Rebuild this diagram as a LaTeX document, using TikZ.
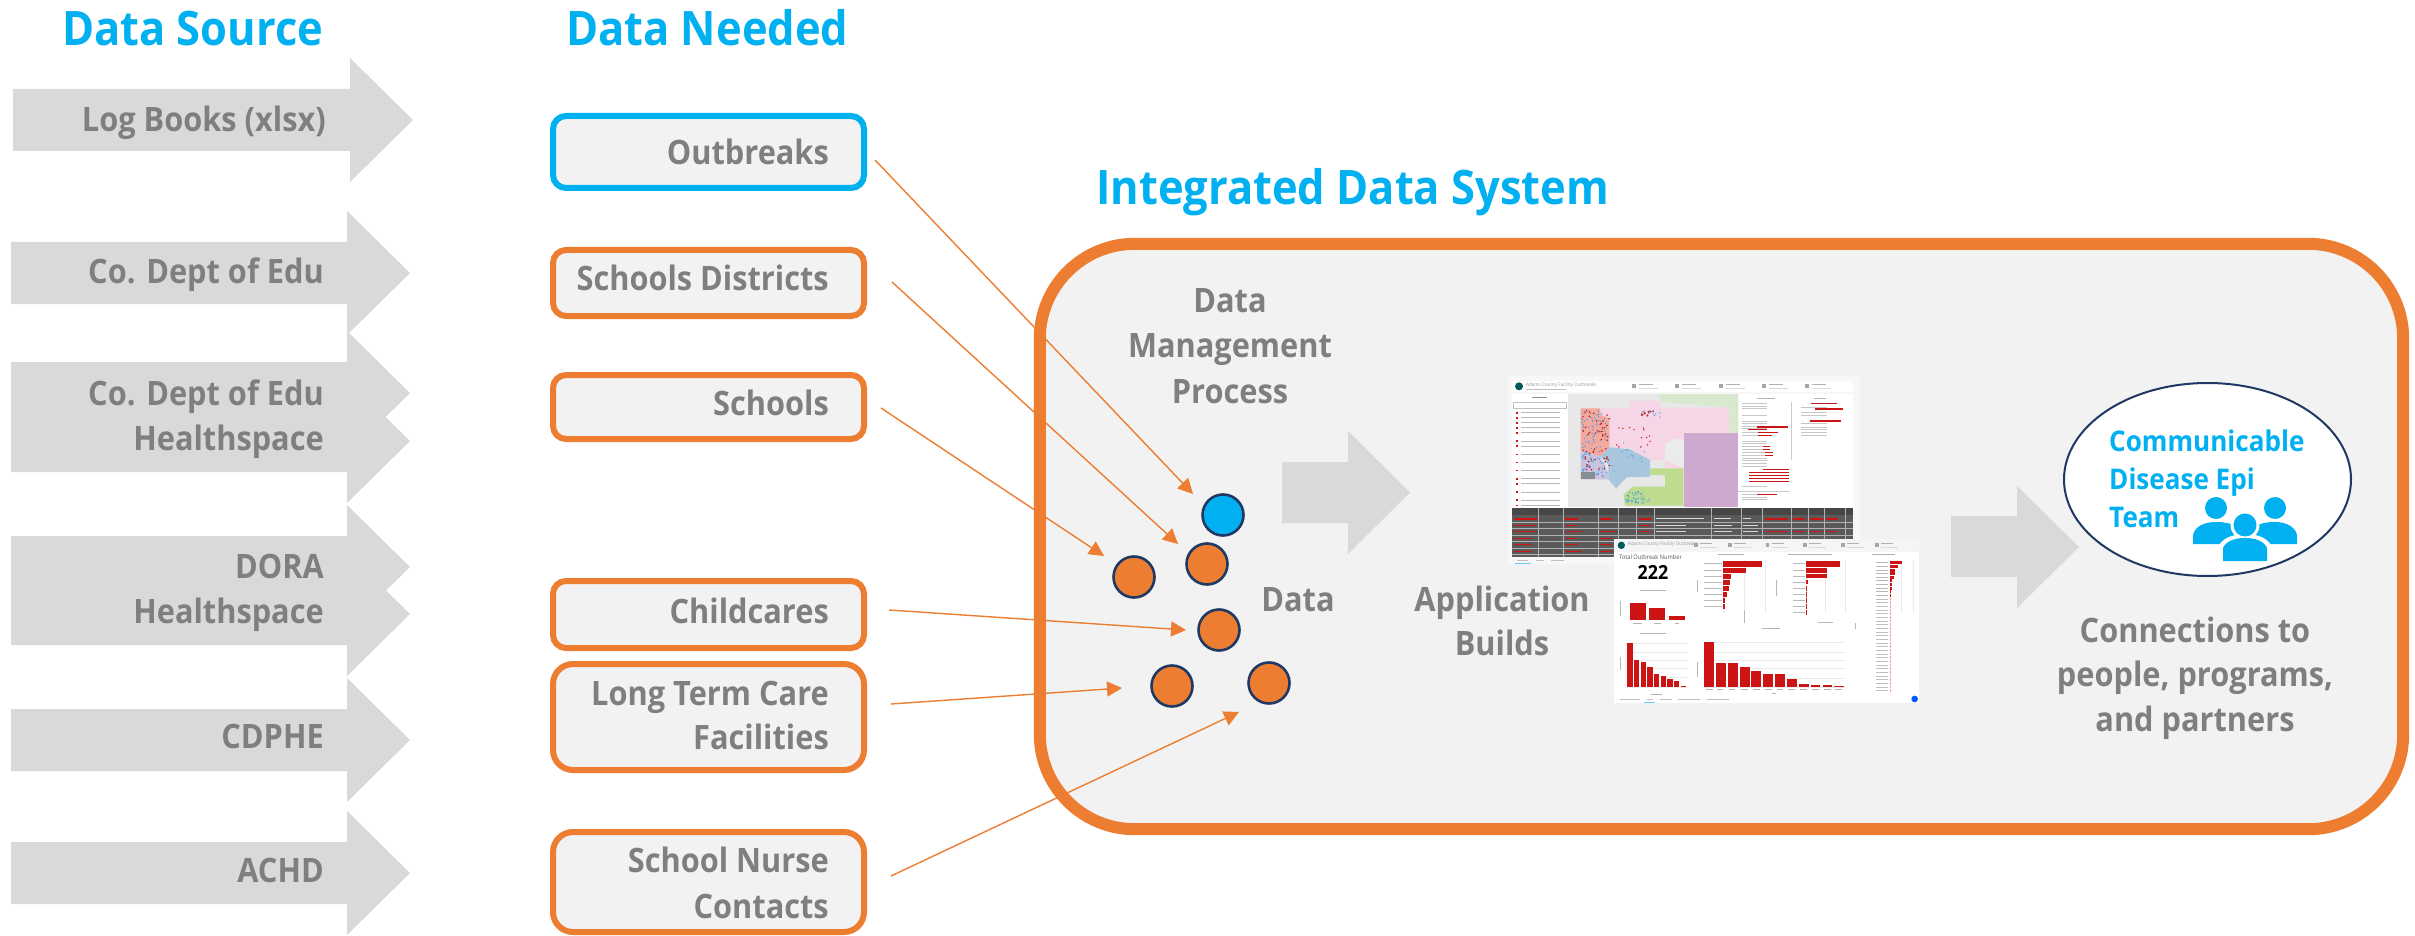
\documentclass[tikz,border=0pt]{standalone}
\usepackage{fontspec}
\setmainfont{Open Sans}[FakeStretch=0.915]
\usetikzlibrary{arrows.meta,calc,shapes.geometric}
\definecolor{arrowgrey}{HTML}{D9D9D9}
\definecolor{panelgrey}{HTML}{F2F2F2}
\definecolor{textgrey}{HTML}{7F7F7F}
\definecolor{accorange}{HTML}{ED7D31}
\definecolor{accblue}{HTML}{00B0F0}
\definecolor{navy}{HTML}{1F3864}
\definecolor{barred}{HTML}{CC1414}
\definecolor{tinygrey}{HTML}{9A9A9A}
\definecolor{darktable}{HTML}{5A5A5A}
\definecolor{mapgreen}{HTML}{D8E9CF}
\definecolor{mappink}{HTML}{F6D6E6}
\definecolor{mapsalmon}{HTML}{F3A99E}
\definecolor{maplav}{HTML}{C9C3E0}
\definecolor{mapblue}{HTML}{A9C6DF}
\definecolor{maplime}{HTML}{BFDB8D}
\definecolor{mappurple}{HTML}{CDA8CF}
\definecolor{mapdot}{HTML}{4EA3E0}
\tikzset{
  heading/.style={anchor=base west,inner sep=0pt,text=accblue,font=\fontsize{47.5}{50}\selectfont\bfseries},
  lab/.style={anchor=base east,inner sep=0pt,text=textgrey,font=\fontsize{33.6}{40}\selectfont\bfseries},
  clab/.style={anchor=base,inner sep=0pt,text=textgrey,font=\fontsize{33.6}{40}\selectfont\bfseries},
  tlab/.style={anchor=base west,inner sep=0pt,text=accblue,font=\fontsize{28.5}{32}\selectfont\bfseries},
  boxo/.style={draw=accorange,line width=6pt,fill=panelgrey,rounded corners=13pt,inner sep=0pt},
  boxb/.style={boxo,draw=accblue},
  dotnode/.style={circle,draw=navy,line width=2.6pt,fill=accorange,minimum size=41pt,inner sep=0pt},
  conn/.style={draw=accorange,line width=1.4pt,-{Triangle[length=15pt,width=15pt]}},
  bigarrow/.style={fill=arrowgrey},
  tiny/.style={anchor=west,inner sep=0pt,text=tinygrey,font=\fontsize{4.6}{5}\selectfont},
}
\newcommand{\srcarrow}[3]{\fill[arrowgrey] (#1,#3-31) -- (#2,#3-31) -- (#2,#3-62) -- (#2+63,#3) -- (#2,#3+62) -- (#2,#3+31) -- (#1,#3+31) -- cycle;}
\begin{document}
\begin{tikzpicture}[x=1pt,y=-1pt]
\useasboundingbox (0,0) rectangle (2415,936);
\fill[white] (0,0) rectangle (2415,936);

% headings
\node[heading] (hsrc) at (62,46) {Data Source};
\node[heading] (hneed) at (566,46) {Data Needed};
\node[heading] (hsys) at (1096,205) {Integrated Data System};

% source arrows
\srcarrow{13}{350}{120}
\srcarrow{11}{347}{273}
\srcarrow{11}{347}{393}
\srcarrow{11}{347}{441}
\srcarrow{11}{347}{567}
\srcarrow{11}{347}{614}
\srcarrow{11}{347}{740}
\srcarrow{11}{347}{873}
\node[lab] (s1) at (326,132) {Log Books (xlsx)};
\node[lab] (s2) at (324,283) {Co. Dept of Edu};
\node[lab] (s3a) at (324,405) {Co. Dept of Edu};
\node[lab] (s3b) at (324,450) {Healthspace};
\node[lab] (s4a) at (324,578) {DORA};
\node[lab] (s4b) at (324,623) {Healthspace};
\node[lab] (s5) at (324,748) {CDPHE};
\node[lab] (s6) at (324,882) {ACHD};

% container fill
\node[fill=panelgrey,rounded corners=95pt,minimum width=1363pt,minimum height=585pt,inner sep=0pt] (sys) at (1721.5,536.5) {};

% data boxes
\node[boxb,minimum width=311pt,minimum height=72pt] (b1) at (708.5,152) {};
\node[boxo,minimum width=311pt,minimum height=66pt] (b2) at (708.5,283) {};
\node[boxo,minimum width=311pt,minimum height=64pt] (b3) at (708.5,407) {};
\node[boxo,minimum width=311pt,minimum height=67pt] (b4) at (708.5,614.5) {};
\node[boxo,minimum width=311pt,minimum height=106pt,rounded corners=20pt] (b5) at (708.5,717) {};
\node[boxo,minimum width=311pt,minimum height=100pt,rounded corners=20pt] (b6) at (708.5,882) {};
\node[lab] (t1) at (829,165) {Outbreaks};
\node[lab] (t2) at (829,290) {Schools Districts};
\node[lab] (t3) at (829,415) {Schools};
\node[lab] (t4) at (829,623) {Childcares};
\node[lab] (t5a) at (829,705) {Long Term Care};
\node[lab] (t5b) at (829,749) {Facilities};
\node[lab] (t6a) at (829,872) {School Nurse};
\node[lab] (t6b) at (829,918) {Contacts};

% data dots
\node[dotnode,fill=accblue] (c1) at (1223,515) {};
\node[dotnode] (c2) at (1207,564) {};
\node[dotnode] (c3) at (1134,577) {};
\node[dotnode] (c4) at (1219,630) {};
\node[dotnode] (c5) at (1172,686) {};
\node[dotnode] (c6) at (1269,683) {};

% connectors
\draw[conn] ($(b1.east)+(8,8)$) -- ($(c1)+(-30,-21)$);
\draw[conn] ($(b2.east)+(25,-1)$) -- ($(c2)+(-29,-20)$);
\draw[conn] ($(b3.east)+(14,1)$) -- ($(c3)+(-30,-21)$);
\draw[conn] ($(b4.east)+(22,-4.5)$) -- ($(c4)+(-33,0)$);
\draw[conn] ($(b5.east)+(24,-13)$) -- ($(c5)+(-50,2)$);
\draw[conn] ($(b6.east)+(24,-6)$) -- ($(c6)+(-30,29)$);

% container outline above connectors
\draw[accorange,line width=12pt,rounded corners=95pt] (sys.north west) rectangle (sys.south east);

% labels in container
\node[clab] (m1) at (1230,312) {Data};
\node[clab] (m2) at (1230,357) {Management};
\node[clab] (m3) at (1230,403) {Process};
\node[clab] (md) at (1298,611) {Data};
\node[clab] (ab1) at (1502,611) {Application};
\node[clab] (ab2) at (1502,655) {Builds};
\node[clab] (cn1) at (2195,642) {Connections to};
\node[clab] (cn2) at (2195,686) {people, programs,};
\node[clab] (cn3) at (2195,731) {and partners};

% big arrows
\fill[arrowgrey] (1282,462) -- (1348,462) -- (1348,431) -- (1410,492.5) -- (1348,554) -- (1348,523) -- (1282,523) -- cycle;
\fill[arrowgrey] (1951,516) -- (2017,516) -- (2017,486) -- (2079,547) -- (2017,608) -- (2017,577) -- (1951,577) -- cycle;

% team ellipse
\node[ellipse,draw=navy,line width=2pt,fill=white,minimum width=287pt,minimum height=193pt,inner sep=0pt] (team) at (2207.5,479.5) {};
\node[tlab] (tm1) at (2109,451) {Communicable};
\node[tlab] (tm2) at (2109,489.5) {Disease Epi};
\node[tlab] (tm3) at (2109,527) {Team};
\fill[accblue] (2216,508) circle[radius=11];
\fill[accblue] (2275,508) circle[radius=11];
\fill[accblue] (2193,544) -- (2193,535) .. controls (2195,526) and (2205,522) .. (2216,522) .. controls (2228,522) and (2236,525) .. (2240,530) -- (2240,544) -- cycle;
\fill[accblue] (2297,544) -- (2297,535) .. controls (2295,526) and (2285,522) .. (2275,522) .. controls (2263,522) and (2255,525) .. (2250,530) -- (2250,544) -- cycle;
\fill[white] (2245,525) circle[radius=14.5];
\fill[white] (2219,564) -- (2219,545) .. controls (2224,537) and (2235,534) .. (2245,534) .. controls (2256,534) and (2266,537) .. (2271,545) -- (2271,564) -- cycle;
\fill[accblue] (2245,525) circle[radius=11.5];
\fill[accblue] (2223,561) -- (2223,548) .. controls (2226,541) and (2235,538) .. (2245,538) .. controls (2255,538) and (2264,541) .. (2267,548) -- (2267,561) -- cycle;

% ===== dashboard screenshot 1 =====
\begin{scope}[shift={(1480,360)},x=0.33333pt,y=-0.33333pt]
\fill[white!97!black] (85,48) rectangle (1140,612);
\fill[white] (95,62) rectangle (1120,97);
\fill[white] (95,102) rectangle (1120,445);
\fill[teal!70!black] (117,79) circle[radius=12];
\node[tiny,font=\fontsize{5}{6}\selectfont] (d1t) at (138,75) {Adams County Facility Outbreaks};
\foreach \xx in {457,586,718,847,976}{
  \fill[black!35] (\xx,73) rectangle ++(12,12);
  \fill[black!30] (\xx+20,71) rectangle ++(42,3);
  \fill[black!15] (\xx+20,83) rectangle ++(58,3);
}
\fill[black!25] (138,86) rectangle (258,89);
% list
\fill[black!45] (157,110) rectangle (200,113);
\draw[black!25,line width=.5pt] (100,128) rectangle (258,145);
\foreach \yy in {158,173,188,203,218,243,258,283,307,331,356,371,396,420,436}{
  \fill[barred] (108,\yy-2) rectangle ++(5,5);
  \fill[black!28] (123,\yy-1.5) rectangle (240,\yy+1.5);
}
% map
\fill[black!9] (265,102) rectangle (775,440);
\fill[mapgreen] (538,102) -- (775,102) -- (775,218) -- (745,218) -- (745,143) -- (538,125) -- cycle;
\fill[mappink] (360,145) -- (448,145) -- (448,122) -- (540,122) -- (540,143) -- (745,143) -- (748,190) -- (745,218) -- (612,218) -- (612,325) -- (555,325) -- (555,300) -- (510,300) -- (450,265) -- (388,262) -- (388,175) -- (362,165) -- cycle;
\fill[mapsalmon] (302,145) -- (360,145) -- (362,165) -- (388,175) -- (388,262) -- (360,290) -- (302,270) -- cycle;
\fill[maplav] (302,270) -- (360,290) -- (385,340) -- (385,358) -- (302,358) -- cycle;
\fill[black!45] (302,335) rectangle (345,358);
\fill[mapblue] (388,262) -- (450,268) -- (510,300) -- (510,350) -- (440,352) -- (408,385) -- (385,358) -- (385,310) -- (360,290) -- cycle;
\fill[white!92!black] (555,250) -- (590,235) -- (660,250) -- (650,275) -- (650,325) -- (612,325) -- (555,300) -- cycle;
\fill[maplime] (510,325) -- (610,325) -- (610,437) -- (435,437) -- (430,405) -- (458,380) -- (555,380) -- (555,345) -- (510,345) -- cycle;
\fill[mappurple] (612,218) -- (775,218) -- (775,440) -- (612,440) -- cycle;
\pgfmathsetseed{7}
\foreach \i in {1,...,110}{
  \pgfmathsetmacro\px{305+rnd*78}\pgfmathsetmacro\py{150+rnd*200}
  \fill[mapdot] (\px,\py) circle[radius=2.4];
}
\foreach \i in {1,...,55}{
  \pgfmathsetmacro\px{305+rnd*85}\pgfmathsetmacro\py{150+rnd*185}
  \fill[barred] (\px,\py) circle[radius=2.6];
}
\foreach \i in {1,...,40}{
  \pgfmathsetmacro\px{435+rnd*75}\pgfmathsetmacro\py{395+rnd*35}
  \fill[mapdot] (\px,\py) circle[radius=2.4];
}
\foreach \i in {1,...,14}{
  \pgfmathsetmacro\px{480+rnd*65}\pgfmathsetmacro\py{150+rnd*22}
  \fill[mapdot] (\px,\py) circle[radius=2.2];
  \pgfmathsetmacro\px{480+rnd*50}\pgfmathsetmacro\py{152+rnd*16}
  \fill[barred] (\px,\py) circle[radius=2.4];
}
\foreach \i in {1,...,14}{
  \pgfmathsetmacro\px{400+rnd*115}\pgfmathsetmacro\py{200+rnd*70}
  \fill[barred] (\px,\py) circle[radius=2.3];
  \pgfmathsetmacro\px{395+rnd*110}\pgfmathsetmacro\py{245+rnd*100}
  \fill[mapdot] (\px,\py) circle[radius=2.1];
}
% details panel
\fill[black!30] (830,113) rectangle (885,116);
\fill[black!30] (1002,113) rectangle (1038,116);
\foreach \yy in {130,137,144,165,183,190,198,205,216,225,242,250,258,267,276,285,293,301,310,318,379,403,410,418}{
  \fill[black!22] (787,\yy) rectangle (860,\yy+2.5);
}
\foreach \yy/\aa/\bb in {199/830/925,207/805/862,215/835/895,224/835/875,258/848/870,267/848/870,276/855/880,285/855/878,327/848/926,336/808/926,345/808/926,353/808/926,362/808/926,401/830/892}{
  \fill[barred] (\aa,\yy) rectangle (\bb,\yy+3.5);
}
\draw[black!20,line width=.4pt] (934,125) -- (934,300);
\draw[black!20,line width=.4pt] (775,395) -- (930,395);
\foreach \yy in {140,156,165,190,200,208,216,225}{
  \fill[black!22] (962,\yy) rectangle (1040,\yy+2.5);
}
\foreach \yy/\aa/\bb in {129/992/1072,145/1005/1088,181/990/1082}{
  \fill[barred] (\aa,\yy) rectangle (\bb,\yy+3.5);
}
% table
\fill[darktable] (95,445) rectangle (1120,590);
\fill[black!72] (95,445) rectangle (1120,466);
\foreach \xx in {176,250,355,415,470,522,695,785,847,933,985,1032,1097}{
  \draw[white!70!black,line width=.5pt] (\xx,445) -- (\xx,590);
}
\foreach \yy in {486,505,525,544,564,583}{
  \draw[white!70!black,line width=.4pt] (95,\yy) -- (1120,\yy);
}
\foreach \xx/\yy/\ww in {101/475/70,255/475/38,360/475/36,477/475/36,101/494/66,255/494/36,477/494/36,101/513/70,255/513/50,360/513/50,477/513/34,101/533/55,255/533/36,360/533/36,101/552/55,255/552/38,360/552/36,101/572/55,255/572/50,360/572/36,855/475/68,940/475/36,990/475/38,1038/475/36,855/513/68,940/513/36,990/513/36,1038/513/34}{
  \fill[barred] (\xx,\yy) rectangle ++(\ww,4);
}
\foreach \xx/\ww in {528/145,702/50,788/25}{
  \fill[black!15] (\xx,475) rectangle ++(\ww,3);
}
\foreach \xx/\ww in {528/90,702/55,788/45}{
  \fill[black!15] (\xx,494) rectangle ++(\ww,3);
  \fill[black!15] (\xx,513) rectangle ++(\ww,3);
}
\fill[black!25] (112,599) rectangle (145,602);
\fill[black!25] (168,599) rectangle (192,602);
\fill[black!25] (213,599) rectangle (252,602);
\fill[cyan!60] (104,609) rectangle (152,611);
\end{scope}

% ===== dashboard screenshot 2 =====
\begin{scope}[shift={(1480,360)},x=0.33333pt,y=-0.33333pt]
\fill[white] (402,538) rectangle (1316,1030);
\fill[white!96!black] (402,538) rectangle (1316,576);
\fill[teal!70!black] (424,556) circle[radius=11];
\node[tiny,font=\fontsize{5}{6}\selectfont] (d2t) at (443,552) {Adams County Facility Outbreaks};
\foreach \xx in {643,745,857,970,1084,1186}{
  \fill[black!35] (\xx,550) rectangle ++(10,11);
  \fill[black!30] (\xx+18,549) rectangle ++(36,2.5);
  \fill[black!15] (\xx+18,560) rectangle ++(50,2.5);
}
\node[anchor=base west,inner sep=0pt,text=black!65,font=\fontsize{6.2}{7}\selectfont] (d2h) at (417,597) {Total Outbreak Number};
\node[anchor=base,inner sep=0pt,text=black,font=\fontsize{19.5}{22}\selectfont\bfseries] (d2n) at (519,659) {222};
% chart titles
\fill[black!30] (713,583) rectangle (792,585.5);
\fill[black!30] (925,583) rectangle (1055,585.5);
\fill[black!30] (1177,583) rectangle (1245,585.5);
\fill[black!30] (480,691) rectangle (559,693.5);
\fill[black!30] (480,819) rectangle (559,821.5);
\fill[black!30] (847,804) rectangle (899,806.5);
% grid
\foreach \xx in {730,793,856,978,1036,1095,1229,1264,1299}{\draw[black!8,line width=.3pt] (\xx,600) -- (\xx,760);}
\foreach \yy in {850,875,900,925,950,980}{\draw[black!8,line width=.3pt] (435,\yy) -- (620,\yy);}
\foreach \yy in {846,875,900,925,955,980}{\draw[black!8,line width=.3pt] (668,\yy) -- (1095,\yy);}
% facility type
\foreach \aa/\tp/\bb in {450/730/497,508/743/555,567/767/614}{\fill[barred] (\aa,\tp) rectangle (\bb,780);}
\foreach \xx/\ww in {460/26,522/20,584/14}{\fill[black!30] (\xx,788) rectangle ++(\ww,2.5);}
% investigator
\foreach \aa/\tp in {442/850,462/900,482/906,502/922,522/941,542/947,562/958,582/963,602/977}{\fill[barred] (\aa,\tp) rectangle (\aa+16,980);}
\fill[black!30] (512,1001) rectangle (545,1003.5);
% city
\foreach \aa/\tp in {673/846,708/908,744/908,780/921,814/932,850/942,885/943,921/957,957/972,992/975,1028/975,1062/977}{\fill[barred] (\aa,\tp) rectangle (\aa+29,980);}
\foreach \aa in {678,710,746,784,820,855,890,925,960,996,1032,1066}{\fill[black!30] (\aa,988) rectangle ++(20,2.5);}
% school district bars
\foreach \tp/\bt/\ee in {604/620/845,623/638/797,641/657/753,660/675/751,678/693/748,697/711/741,715/729/736,733/748/735}{
  \fill[barred] (730,\tp) rectangle (\ee,\bt);
  \fill[black!28] (672,\tp+6) rectangle (726,\tp+8.5);
}
\foreach \tp/\bt/\ee in {604/620/1080,623/638/1042,641/655/1042,660/673/985,678/692/981,697/711/980,715/729/980,733/747/980,751/765/980}{
  \fill[barred] (978,\tp) rectangle (\ee,\bt);
  \fill[black!28] (940,\tp+6) rectangle (974,\tp+8.5);
}
% disease bars
\foreach \tp/\ee in {604/1265,615/1254,626/1246,636/1245,647/1243,658/1237,669/1236,680/1235,690/1233,702/1233}{
  \fill[barred] (1229,\tp) rectangle (\ee,\tp+8.5);
  \fill[black!28] (1187,\tp+3) rectangle (1225,\tp+5.5);
}
\foreach \tp in {713,724,735,746,757,768,779,790,801,812,823,834,845,856,867,878,889,900,911,922,933,944,955,966,977,988}{
  \fill[red!40] (1229,\tp) rectangle (1231.5,\tp+8);
  \fill[black!25] (1187,\tp+3) rectangle (1225,\tp+5.5);
}
% axes labels
\fill[black!28] (652,660) rectangle (654.5,695);
\fill[black!28] (889,660) rectangle (891.5,708);
\fill[black!28] (793,750) rectangle (795.5,790);
\fill[black!28] (1015,786) rectangle (1060,788.5);
\fill[black!28] (1126,788) rectangle (1128.5,808);
\fill[black!28] (421,723) rectangle (423.5,768);
\fill[black!28] (420,890) rectangle (422.5,930);
\fill[black!28] (651,905) rectangle (653.5,950);
\fill[black!28] (877,1000) rectangle (887,1002.5);
% tabs
\foreach \xx/\ww in {420/60,500/20,540/35,594/66,680/66}{\fill[black!25] (\xx,1016.5) rectangle ++(\ww,2.5);}
\fill[cyan!60] (492,1027) rectangle (525,1029);
\fill[blue!65!cyan] (1304,1017) circle[radius=10];
\end{scope}
\end{tikzpicture}
\end{document}
